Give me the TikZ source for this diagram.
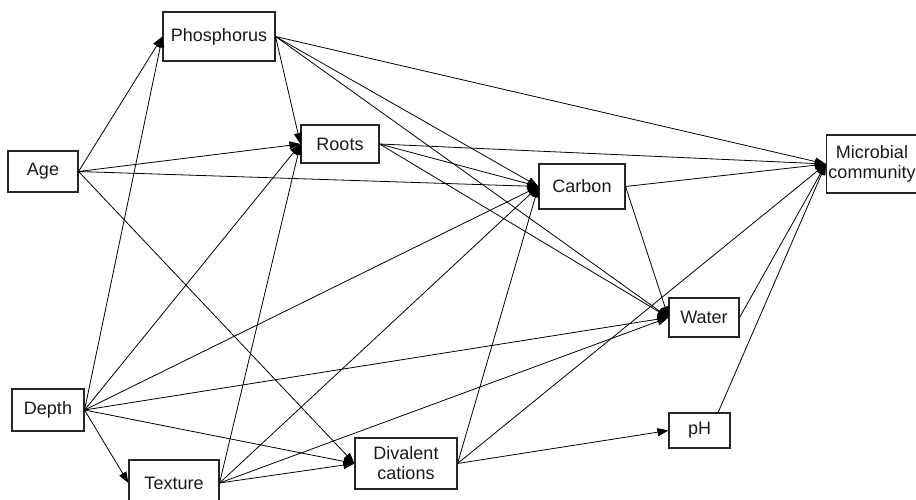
\documentclass[tikz,border=0pt]{standalone}
\usepackage{fontspec}
\setmainfont{Liberation Sans}
\usetikzlibrary{arrows.meta,calc}
\begin{document}
\begin{tikzpicture}[x=1pt,y=-1pt,
  box/.style={draw=black!85, line width=1.1pt, inner sep=0pt, font=\fontsize{18}{20}\selectfont, text=black!90, align=center},
  arr/.style={-{Triangle[length=11pt,width=8pt]}, line width=0.8pt, black}]
\useasboundingbox (0,0) rectangle (916,500);
\node[box, minimum width=112pt, minimum height=49pt] (phos) at (219,36.5) {Phosphorus};
\node[box, minimum width=78pt, minimum height=38pt] (roots) at (340,144) {Roots};
\node[box, minimum width=70pt, minimum height=41pt] (age) at (43,171.5) {Age};
\node[box, minimum width=86pt, minimum height=45pt] (carbon) at (582,186.5) {Carbon};
\node[box, minimum width=91pt, minimum height=58pt] (micro) at (872,164) {Microbial\\community};
\node[box, minimum width=72pt, minimum height=42pt] (depth) at (48,410) {Depth};
\node[box, minimum width=90pt, minimum height=46pt] (texture) at (174,483) {Texture};
\node[box, minimum width=102pt, minimum height=51pt] (div) at (406,463.5) {Divalent\\cations};
\node[box, minimum width=70pt, minimum height=39pt] (water) at (704,317.5) {Water};
\node[box, minimum width=61pt, minimum height=35pt] (ph) at (699.5,430.5) {pH};
\coordinate (phtop) at ($(ph.north)!0.6!(ph.north east)$);
% Age
\draw[arr] (age.east) -- (phos.west);
\draw[arr] (age.east) -- (roots.west);
\draw[arr] (age.east) -- (carbon.west);
\draw[arr] (age.east) -- (div.west);
% Depth
\draw[arr] (depth.east) -- (phos.west);
\draw[arr] (depth.east) -- (roots.west);
\draw[arr] (depth.east) -- (carbon.west);
\draw[arr] (depth.east) -- (water.west);
\draw[arr] (depth.east) -- (div.west);
\draw[arr] (depth.east) -- (texture.west);
% Texture
\draw[arr] (texture.east) -- (roots.west);
\draw[arr] (texture.east) -- (carbon.west);
\draw[arr] (texture.east) -- (water.west);
\draw[arr] (texture.east) -- (div.west);
% Phosphorus
\draw[arr] (phos.east) -- (roots.west);
\draw[arr] (phos.east) -- (carbon.west);
\draw[arr] (phos.east) -- (water.west);
\draw[arr] (phos.east) -- (micro.west);
% Roots
\draw[arr] (roots.east) -- (carbon.west);
\draw[arr] (roots.east) -- (water.west);
\draw[arr] (roots.east) -- (micro.west);
% Carbon
\draw[arr] (carbon.east) -- (water.west);
\draw[arr] (carbon.east) -- (micro.west);
% Divalent
\draw[arr] (div.east) -- (ph.west);
\draw[arr] (div.east) -- (carbon.west);
\draw[arr] (div.east) -- (micro.west);
% Water, pH
\draw[arr] (water.east) -- (micro.west);
\draw[arr] (phtop) -- (micro.west);
\end{tikzpicture}
\end{document}
